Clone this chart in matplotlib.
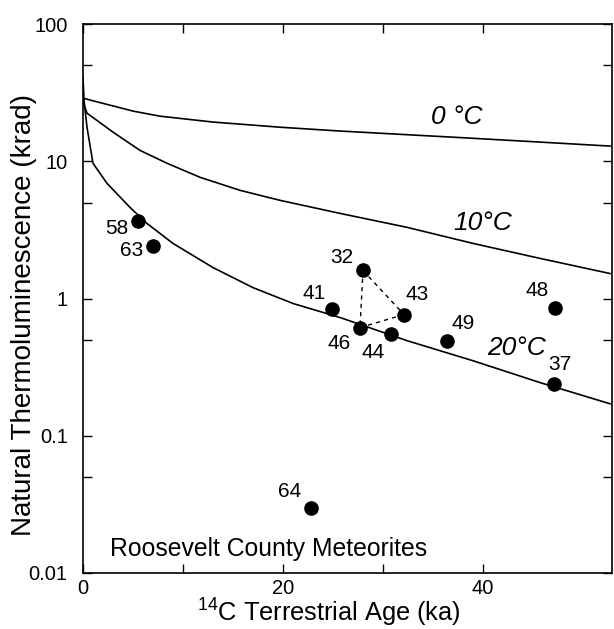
import matplotlib
matplotlib.use("Agg")
import matplotlib.pyplot as plt
from matplotlib.ticker import LogLocator, NullFormatter, FixedLocator

plt.rcParams['font.family'] = ['Liberation Sans', 'DejaVu Sans']
plt.rcParams['mathtext.fontset'] = 'custom'
plt.rcParams['mathtext.rm'] = 'Liberation Sans'
plt.rcParams['mathtext.it'] = 'Liberation Sans:italic'

# model curves (age in ka, TL in krad)
age_0c = [0, 5.0, 7.7, 13.0, 19.7, 25.7, 39.0, 52.7]
tl_0c = [28.8, 23.2, 21.3, 19.3, 17.7, 16.6, 14.7, 12.9]

age_10c = [0, 0.4, 3.0, 5.7, 8.4, 11.7, 15.7, 19.7, 25.7, 32.4, 39.0, 45.7, 52.7]
tl_10c = [27.0, 22.4, 16.3, 12.0, 9.67, 7.64, 6.14, 5.19, 4.17, 3.30, 2.52, 1.96, 1.52]

age_20c = [0, 0.1, 0.4, 1.0, 2.4, 4.7, 6.4, 9.0, 13.0, 17.0, 21.0, 25.7, 32.4, 39.0, 45.7, 52.7]
tl_20c = [41.0, 27.9, 17.7, 9.66, 6.90, 4.61, 3.52, 2.52, 1.68, 1.20, 0.920, 0.727, 0.493, 0.352, 0.244, 0.171]

# meteorites
names = ['58', '63', '41', '32', '43', '46', '44', '49', '48', '37', '64']
ages = [5.5, 7.0, 24.9, 28.0, 32.1, 27.7, 30.8, 36.4, 47.2, 47.1, 22.8]
tl = [3.65, 2.40, 0.845, 1.60, 0.764, 0.614, 0.555, 0.493, 0.859, 0.240, 0.0298]
label_offsets = [(-21, -7), (-21, -4), (-18, 15), (-21, 13), (13, 20), (-21, -16),
                 (-18, -19), (16, 17), (-18, 17), (6, 19), (-21, 16)]

# paired samples joined by dashed lines
pairs = [('32', '46'), ('32', '43'), ('46', '43')]

fig = plt.figure(figsize=(6.14, 6.29), dpi=100)
ax = fig.add_axes([83 / 614, 56 / 629, 529 / 614, 549 / 629])

for a, t in [(age_0c, tl_0c), (age_10c, tl_10c), (age_20c, tl_20c)]:
    ax.plot(a, t, color='black', lw=1.2)

for p, q in pairs:
    i, j = names.index(p), names.index(q)
    ax.plot([ages[i], ages[j]], [tl[i], tl[j]], color='black', lw=1.0,
            ls=(0, (3, 3)))

ax.plot(ages, tl, 'o', color='black', markersize=9.5)

for n, a, t, off in zip(names, ages, tl, label_offsets):
    ax.annotate(n, (a, t), xytext=off, textcoords='offset pixels',
                ha='center', va='center', fontsize=15)

# curve labels
ax.text(37.4, 20.9, '0 °C', style='italic', fontsize=19, ha='center', va='center')
ax.text(40.0, 3.52, '10°C', style='italic', fontsize=19, ha='center', va='center')
ax.text(43.4, 0.438, '20°C', style='italic', fontsize=19, ha='center', va='center')

ax.text(0.051, 0.044, 'Roosevelt County Meteorites', transform=ax.transAxes,
        fontsize=17.8, ha='left', va='center')

ax.set_yscale('log')
ax.set_xlim(0, 52.9)
ax.set_ylim(0.01, 100)

ax.set_yticks([0.01, 0.1, 1, 10, 100])
ax.set_yticklabels(['0.01', '0.1', '1', '10', '100'])
ax.yaxis.set_minor_locator(LogLocator(base=10, subs=[5]))
ax.yaxis.set_minor_formatter(NullFormatter())

ax.set_xticks([0, 10, 20, 30, 40])
ax.set_xticklabels(['0', '', '20', '', '40'])
ax.xaxis.set_minor_locator(FixedLocator([]))

ax.tick_params(which='both', direction='in', top=True, right=True,
               length=6.5, width=1.0, labelsize=14.5)
ax.tick_params(axis='y', pad=11)
ax.tick_params(axis='x', pad=4)

for s in ax.spines.values():
    s.set_linewidth(1.2)

ax.set_ylabel('Natural Thermoluminescence (krad)', fontsize=20)
ax.yaxis.set_label_coords(-0.087, 0.47)
ax.set_xlabel(r'$^{14}$C Terrestrial Age (ka)', fontsize=18.3)
ax.xaxis.set_label_coords(0.465, -0.044)

fig.savefig('out.png', dpi=100)
